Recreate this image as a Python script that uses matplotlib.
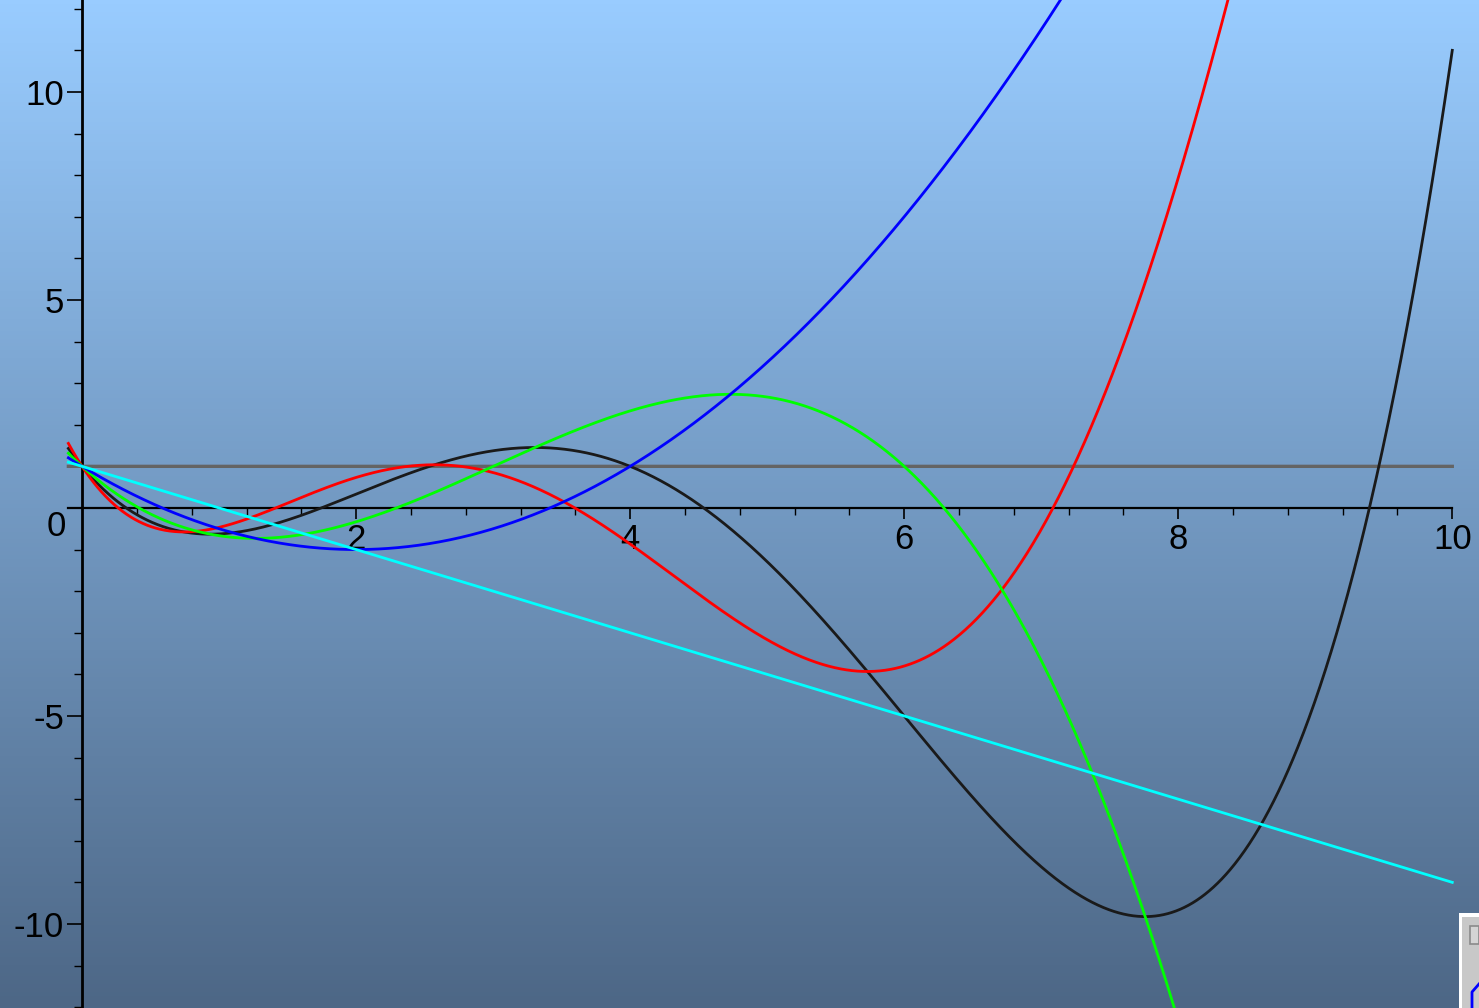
import numpy as np
import matplotlib
matplotlib.use("Agg")
import matplotlib.pyplot as plt
from matplotlib.patches import Rectangle
from numpy.polynomial import polynomial as P

plt.rcParams['font.family'] = ['Liberation Sans', 'DejaVu Sans']

# Laguerre polynomials L0..L5, coefficients in increasing powers of x
L0 = [1.0]
L1 = [1.0, -1.0]
L2 = [1.0, -2.0, 1 / 2]
L3 = [1.0, -3.0, 3 / 2, -1 / 6]
L4 = [1.0, -4.0, 3.0, -2 / 3, 1 / 24]
L5 = [1.0, -5.0, 5.0, -5 / 3, 5 / 24, -1 / 120]

curves = [L0, L4, L5, L3, L2, L1]
colors = ['#646464', '#1a1a1a', '#ff0000', '#00ff00', '#0000ff', '#00ffff']
widths = [2.4, 2.0, 2.0, 2.0, 2.0, 2.0]

x_range = (-0.1, 10.0)
x_ticks = [2, 4, 6, 8, 10]
x_labels = ['2', '4', '6', '8', '10']
y_ticks = [10, 5, -5, -10]
y_labels = ['10', '5', '-5', '-10']

fig = plt.figure(figsize=(14.79, 10.08), dpi=100)
ax = fig.add_axes([0, 0, 1, 1])
xlim = (-0.599, 10.195)
ylim = (-12.02, 12.21)
ax.set_xlim(*xlim)
ax.set_ylim(*ylim)

# vertical background gradient
top = np.array([153, 204, 255]) / 255
bottom = np.array([77, 103, 134]) / 255
t = np.linspace(0, 1, 256)[:, None]
grad = (top * (1 - t) + bottom * t)[:, None, :]
ax.imshow(grad, extent=[xlim[0], xlim[1], ylim[0], ylim[1]], aspect='auto', zorder=0)

x = np.linspace(x_range[0], x_range[1], 2000)
for coef, c, lw in zip(curves, colors, widths):
    ax.plot(x, P.polyval(x, coef), color=c, lw=lw, zorder=3)

# axes through the origin
for s in ['top', 'right']:
    ax.spines[s].set_visible(False)
ax.spines['left'].set_position(('data', 0))
ax.spines['bottom'].set_position(('data', 0))
ax.spines['left'].set_linewidth(2.0)
ax.spines['bottom'].set_linewidth(1.6)
ax.spines['bottom'].set_bounds(x_range[0], 10)
ax.spines['left'].set_zorder(2)
ax.spines['bottom'].set_zorder(2)

ax.set_xticks(x_ticks)
ax.set_xticklabels(x_labels)
ax.set_xticks(np.arange(0.4, 10.0, 0.4), minor=True)
ax.set_yticks(y_ticks)
ax.set_yticklabels(y_labels)
ax.set_yticks([v for v in range(-12, 13) if v % 5 != 0], minor=True)

ax.tick_params(axis='x', which='major', direction='out', length=8, width=1.2, pad=3, labelsize=25)
ax.tick_params(axis='x', which='minor', direction='out', length=5, width=1.0)
ax.tick_params(axis='y', which='major', direction='out', length=11, width=1.2, pad=2, labelsize=25)
ax.tick_params(axis='y', which='minor', direction='out', length=6, width=1.0)
ax.text(-0.12, -0.05, '0', ha='right', va='top', fontsize=25)

# small window fragment in the lower right corner
fig.patches.append(Rectangle((1459 / 1479, 0), 20 / 1479, 95 / 1008, transform=fig.transFigure,
                             facecolor='white', edgecolor='none', zorder=5))
fig.patches.append(Rectangle((1462 / 1479, 0), 17 / 1479, 91 / 1008, transform=fig.transFigure,
                             facecolor='#c8c8c8', edgecolor='none', zorder=6))
fig.patches.append(Rectangle((1470 / 1479, 64 / 1008), 9 / 1479, 18 / 1008, transform=fig.transFigure,
                             facecolor='#d4d4d4', edgecolor='#8a8a8a', lw=1.2, zorder=7))
fig.lines.append(plt.Line2D([1472 / 1479, 1472 / 1479, 1479 / 1479], [0, 16 / 1008, 24 / 1008],
                            transform=fig.transFigure, color='#0000ff', lw=2.0, zorder=7))

fig.savefig('out.png', dpi=100)
